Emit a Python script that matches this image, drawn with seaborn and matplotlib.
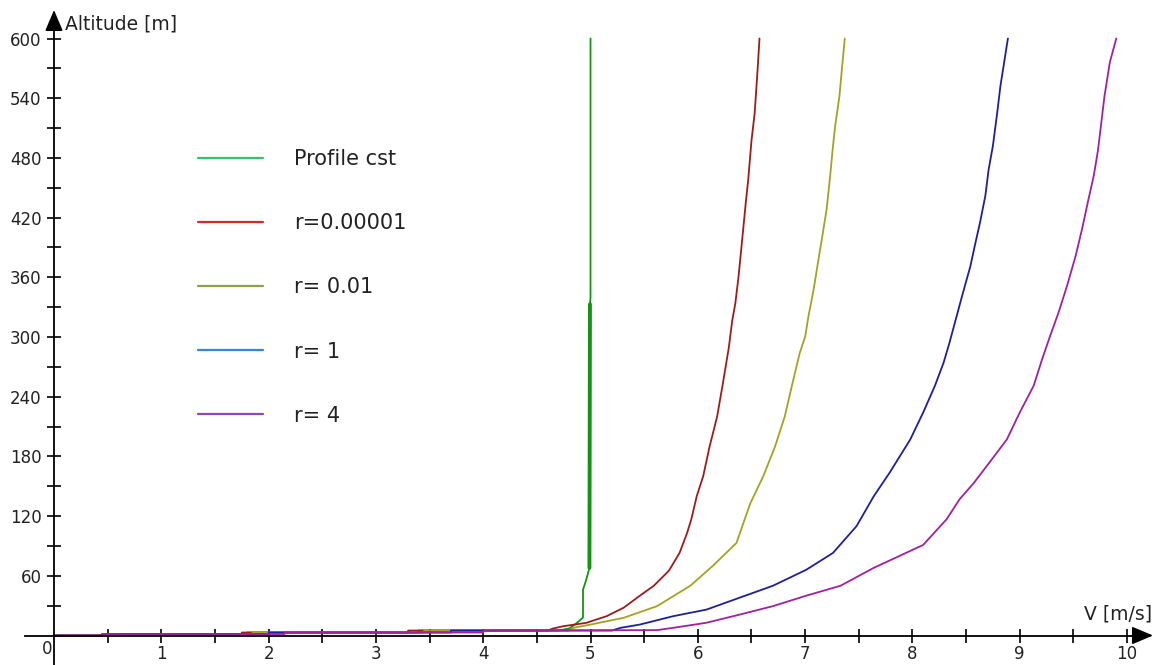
import numpy as np
import pandas as pd
import matplotlib
matplotlib.use("Agg")
import matplotlib.pyplot as plt
import seaborn as sns
from matplotlib.lines import Line2D

# ---------------- data ----------------
series_names = ["Profile cst", "r=0.00001", "r= 0.01", "r= 1", "r= 4"]

green_v = [0, 0.45, 0.45, 1.8, 1.8, 3.4, 3.4, 4.7, 4.8, 4.855, 4.93, 4.93, 4.96, 4.99, 4.995, 5.0, 5.0]
green_h = [0, 0, 1.5, 1.5, 3, 3, 5, 5, 7, 11, 18, 46, 56, 68, 333, 340, 600]

red_v = [0, 0.45, 0.45, 1.75, 1.75, 3.3, 3.3, 4.6, 4.65, 4.75, 4.96, 5.15, 5.31, 5.46, 5.59,
         5.73, 5.83, 5.90, 5.94, 5.99, 6.05, 6.11, 6.18, 6.23, 6.29, 6.32, 6.35, 6.38, 6.42,
         6.45, 6.47, 6.50, 6.53, 6.555, 6.575]
red_h = [0, 0, 1.5, 1.5, 3, 3, 5, 5, 7, 9.4, 12.7, 19.4, 28, 40, 50,
         65, 83, 103, 117, 140, 160, 190, 220, 251, 290, 316, 334, 361, 405,
         438, 458, 497, 525, 565, 600]

olive_v = [0, 0.45, 0.45, 1.85, 1.85, 3.45, 3.45, 4.8, 4.84, 5.0, 5.31, 5.62, 5.93, 6.14, 6.36,
           6.49, 6.61, 6.72, 6.81, 6.89, 6.95, 7.00, 7.03, 7.08, 7.12, 7.16, 7.20, 7.23, 7.26,
           7.28, 7.32, 7.345, 7.37]
olive_h = [0, 0, 1.5, 1.5, 3, 3, 5, 5, 7.7, 11, 17.8, 29.5, 50, 70, 93,
           133, 160, 190, 220, 257, 284, 300, 320, 348, 375, 401, 428, 458, 492,
           512, 542, 572, 600]

blue_v = [0, 0.45, 0.45, 2.0, 2.0, 3.7, 3.7, 5.2, 5.28, 5.46, 5.77, 6.08, 6.39, 6.70, 7.01,
          7.26, 7.48, 7.64, 7.79, 7.98, 8.10, 8.21, 8.29, 8.345, 8.40, 8.47, 8.54, 8.58, 8.63,
          8.68, 8.71, 8.75, 8.79, 8.82, 8.855, 8.89]
blue_h = [0, 0, 1.5, 1.5, 3, 3, 5, 5, 7.7, 11, 19.4, 26, 38, 50, 66,
          83, 110, 140, 164, 197, 224, 251, 274, 294, 316, 344, 371, 391, 415,
          442, 468, 492, 525, 552, 576, 600]

magenta_v = [0, 0.45, 0.45, 2.15, 2.15, 4.0, 4.0, 5.62, 5.77, 6.08, 6.39, 6.70, 7.01, 7.33,
             7.64, 7.88, 8.10, 8.32, 8.44, 8.57, 8.74, 8.88, 9.00, 9.13, 9.21, 9.28, 9.36,
             9.44, 9.52, 9.58, 9.64, 9.69, 9.73, 9.76, 9.79, 9.84, 9.90]
magenta_h = [0, 0, 1.5, 1.5, 3, 3, 5, 5.4, 7.7, 12.8, 21, 29.5, 40, 50,
             68, 80, 91, 117, 137, 153, 177, 197, 224, 251, 278, 300, 324,
             351, 381, 408, 438, 462, 488, 515, 542, 576, 600]

x_major = [1, 2, 3, 4, 5, 6, 7, 8, 9, 10]
x_minor = [0.5, 1.5, 2.5, 3.5, 4.5, 5.5, 6.5, 7.5, 8.5, 9.5]
y_major = [60, 120, 180, 240, 300, 360, 420, 480, 540, 600]
y_minor = [30, 90, 150, 210, 270, 330, 390, 450, 510, 570]

line_colors = ["#129412", "#9c1c1c", "#a3a323", "#1f1f9c", "#a020a0"]
legend_colors = ["#35c06a", "#d42a2a", "#8ea245", "#2a8bd6", "#8a48bd"]

# ---------------- build frame ----------------
all_v = [green_v, red_v, olive_v, blue_v, magenta_v]
all_h = [green_h, red_h, olive_h, blue_h, magenta_h]
frames = []
for name, v, h in zip(series_names, all_v, all_h):
    frames.append(pd.DataFrame({"V": v, "Alt": h, "series": name, "idx": range(len(v))}))
df = pd.concat(frames, ignore_index=True)

sns.set_theme(style="white")
plt.rcParams["font.family"] = ["DejaVu Sans"]

W, H = 1162, 665
fig = plt.figure(figsize=(W / 100, H / 100), dpi=100)
ax = fig.add_axes([0, 0, 1, 1])
ax.set_facecolor("white")

# pixel geometry of the reference: v=0 at x=54 px, 107.3 px per unit; h=0 at y=635.5, 0.995 px per m
x0_px, xs = 54.0, 107.3
y0_px, ys = 635.5, 0.995
ax.set_xlim(-x0_px / xs, (W - x0_px) / xs)
ax.set_ylim((y0_px - H) / ys, y0_px / ys)

palette = dict(zip(series_names, line_colors))
sns.lineplot(data=df, x="V", y="Alt", hue="series", hue_order=series_names,
             palette=palette, sort=False, estimator=None, units="series",
             legend=False, ax=ax, linewidth=1.3)
# thick part of the constant profile
thick = df[(df.series == "Profile cst") & (df.idx.between(13, 14))]
sns.lineplot(data=thick, x="V", y="Alt", color=line_colors[0], sort=False,
             estimator=None, legend=False, ax=ax, linewidth=2.8)

# ---------------- axes through the origin ----------------
for s in ["top", "right"]:
    ax.spines[s].set_visible(False)
ax.spines["left"].set_position(("data", 0))
ax.spines["bottom"].set_position(("data", 0))
ax.spines["left"].set_bounds((y0_px - H) / ys, (y0_px - 28) / ys)
ax.spines["bottom"].set_bounds((25 - x0_px) / xs, (1136 - x0_px) / xs)
for s in ["left", "bottom"]:
    ax.spines[s].set_color("black")
    ax.spines[s].set_linewidth(1.3)

ax.annotate("", xy=(0, (y0_px - 10) / ys), xytext=(0, (y0_px - 30) / ys),
            arrowprops=dict(arrowstyle="-|>,head_length=1.3,head_width=0.55",
                            color="black", lw=1.2, shrinkA=0, shrinkB=0,
                            mutation_scale=10))
ax.annotate("", xy=((1153 - x0_px) / xs, 0), xytext=((1132 - x0_px) / xs, 0),
            arrowprops=dict(arrowstyle="-|>,head_length=1.3,head_width=0.55",
                            color="black", lw=1.2, shrinkA=0, shrinkB=0,
                            mutation_scale=10))

ax.set_xticks(x_major)
ax.set_xticks(x_minor, minor=True)
ax.set_yticks(y_major)
ax.set_yticks(y_minor, minor=True)
ax.set_xticklabels([str(t) for t in x_major])
ax.set_yticklabels([str(t) for t in y_major])
ax.tick_params(axis="both", which="both", direction="inout", length=10, width=1.2,
               color="black", labelsize=12, labelcolor="#222222")
ax.tick_params(axis="x", which="both", pad=2, bottom=True)
ax.tick_params(axis="y", which="both", pad=4, left=True)
ax.set_xlabel("")
ax.set_ylabel("")
ax.grid(False)

ax.annotate("0", xy=(0, 0), xytext=(-5.3, -9.5), textcoords="offset points",
            ha="center", va="center", fontsize=12, color="#222222")

fig.text(65 / W, 1 - 24 / H, "Altitude [m]", ha="left", va="center",
         fontsize=13.5, color="#222222")
fig.text(1152 / W, 1 - 614 / H, "V [m/s]", ha="right", va="center",
         fontsize=13.5, color="#222222")

# ---------------- legend ----------------
handles = [Line2D([0], [0], color=c, lw=1.6) for c in legend_colors]
ax.legend(handles, series_names, loc="upper left",
          bbox_to_anchor=(198 / W, 1 - 149 / H), bbox_transform=fig.transFigure,
          frameon=False, fontsize=15, handlelength=3.1, handletextpad=1.5,
          labelspacing=2.12, borderpad=0, borderaxespad=0, labelcolor="#222222")

fig.savefig("out.png", dpi=100)
